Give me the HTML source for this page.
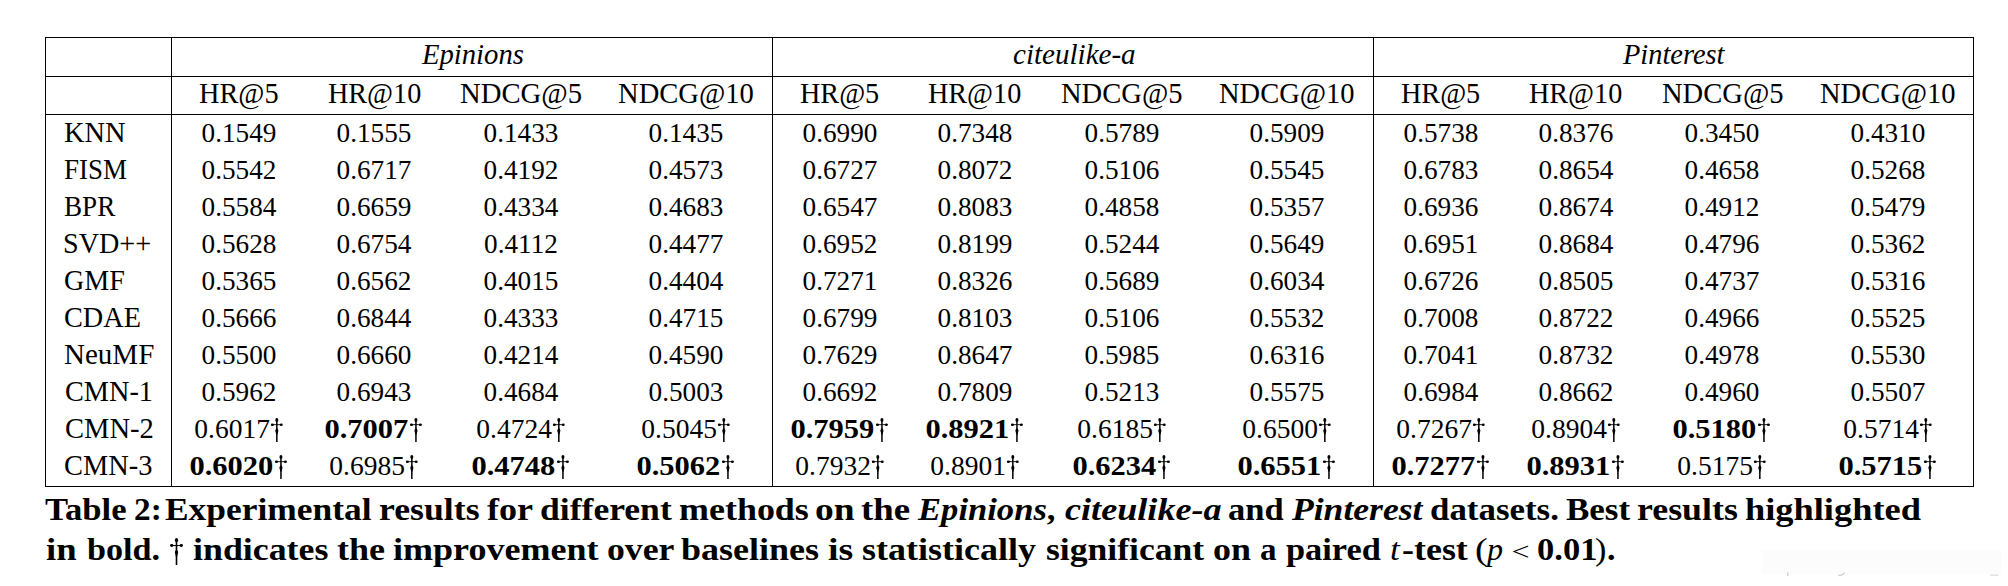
<!DOCTYPE html>
<html><head><meta charset="utf-8"><style>
html,body{margin:0;padding:0;background:#fff;}
body{width:2008px;height:586px;position:relative;overflow:hidden;}
.t{position:absolute;white-space:nowrap;font-family:"Liberation Serif",serif;color:#000;line-height:normal;}
.m{font-weight:normal;}
.dg{display:inline-block;position:relative;width:0.5em;height:0;}
.dg svg{position:absolute;fill:#000;}
svg.ln{position:absolute;left:0;top:0;}
</style></head><body>
<svg class="ln" width="2008" height="586" viewBox="0 0 2008 586"><rect x="45" y="37" width="1929" height="1" fill="#000"/><rect x="45" y="76" width="1929" height="1" fill="#000"/><rect x="45" y="114" width="1929" height="1" fill="#000"/><rect x="45" y="486" width="1929" height="1" fill="#000"/><rect x="45" y="37" width="1" height="450" fill="#000"/><rect x="171" y="37" width="1" height="450" fill="#000"/><rect x="772" y="37" width="1" height="450" fill="#000"/><rect x="1373" y="37" width="1" height="450" fill="#000"/><rect x="1973" y="37" width="1" height="450" fill="#000"/><rect x="1762" y="550" width="239" height="24" fill="#fcfcfc"/><rect x="1787.2" y="572.5" width="1.2" height="3.6" fill="#c8c8c8"/><path d="M1838.5 575.3 Q1842 576 1844.8 573" stroke="#b8b8b8" stroke-width="1" fill="none"/><rect x="1990" y="574.6" width="8.8" height="1.1" fill="#d8d8d8"/></svg>
<div class="t " style="left:422.25px;top:38.61px;font-size:28.5px;transform:scaleX(1.0055);transform-origin:0 0"><i>Epinions</i></div>
<div class="t " style="left:199.36px;top:77.61px;font-size:28.5px;transform:scaleX(0.9930);transform-origin:0 0">HR@5</div>
<div class="t " style="left:327.96px;top:77.61px;font-size:28.5px;transform:scaleX(0.9881);transform-origin:0 0">HR@10</div>
<div class="t " style="left:459.94px;top:77.61px;font-size:28.5px;transform:scaleX(1.0067);transform-origin:0 0">NDCG@5</div>
<div class="t " style="left:618.35px;top:77.61px;font-size:28.5px;transform:scaleX(1.0026);transform-origin:0 0">NDCG@10</div>
<div class="t " style="left:1012.78px;top:38.61px;font-size:28.5px;transform:scaleX(1.0199);transform-origin:0 0"><i>citeulike-a</i></div>
<div class="t " style="left:800.26px;top:77.61px;font-size:28.5px;transform:scaleX(0.9891);transform-origin:0 0">HR@5</div>
<div class="t " style="left:928.46px;top:77.61px;font-size:28.5px;transform:scaleX(0.9881);transform-origin:0 0">HR@10</div>
<div class="t " style="left:1060.95px;top:77.61px;font-size:28.5px;transform:scaleX(1.0017);transform-origin:0 0">NDCG@5</div>
<div class="t " style="left:1219.05px;top:77.61px;font-size:28.5px;transform:scaleX(1.0004);transform-origin:0 0">NDCG@10</div>
<div class="t " style="left:1622.80px;top:38.61px;font-size:28.5px;transform:scaleX(0.9966);transform-origin:0 0"><i>Pinterest</i></div>
<div class="t " style="left:1401.06px;top:77.61px;font-size:28.5px;transform:scaleX(0.9891);transform-origin:0 0">HR@5</div>
<div class="t " style="left:1529.26px;top:77.61px;font-size:28.5px;transform:scaleX(0.9881);transform-origin:0 0">HR@10</div>
<div class="t " style="left:1661.75px;top:77.61px;font-size:28.5px;transform:scaleX(1.0017);transform-origin:0 0">NDCG@5</div>
<div class="t " style="left:1820.05px;top:77.61px;font-size:28.5px;transform:scaleX(1.0004);transform-origin:0 0">NDCG@10</div>
<div class="t " style="left:64.05px;top:117.01px;font-size:28.5px;transform:scaleX(0.9959);transform-origin:0 0">KNN</div>
<div class="t " style="left:64.49px;top:154.01px;font-size:28.5px;transform:scaleX(0.9462);transform-origin:0 0">FISM</div>
<div class="t " style="left:64.19px;top:191.01px;font-size:28.5px;transform:scaleX(0.9509);transform-origin:0 0">BPR</div>
<div class="t " style="left:63.22px;top:228.01px;font-size:28.5px;transform:scaleX(0.9878);transform-origin:0 0">SVD++</div>
<div class="t " style="left:64.17px;top:265.01px;font-size:28.5px;transform:scaleX(0.9832);transform-origin:0 0">GMF</div>
<div class="t " style="left:64.16px;top:302.01px;font-size:28.5px;transform:scaleX(0.9920);transform-origin:0 0">CDAE</div>
<div class="t " style="left:64.14px;top:339.01px;font-size:28.5px;transform:scaleX(1.0184);transform-origin:0 0">NeuMF</div>
<div class="t " style="left:64.56px;top:376.01px;font-size:28.5px;transform:scaleX(0.9924);transform-origin:0 0">CMN-1</div>
<div class="t " style="left:64.55px;top:413.01px;font-size:28.5px;transform:scaleX(1.0017);transform-origin:0 0">CMN-2</div>
<div class="t " style="left:64.25px;top:450.01px;font-size:28.5px;transform:scaleX(0.9971);transform-origin:0 0">CMN-3</div>
<div class="t " style="left:239.30px;top:118.01px;font-size:26.7px;transform:translateX(-50%) scaleX(1.0194);transform-origin:50% 0">0.1549</div>
<div class="t " style="left:374.40px;top:118.01px;font-size:26.7px;transform:translateX(-50%) scaleX(1.0194);transform-origin:50% 0">0.1555</div>
<div class="t " style="left:521.00px;top:118.01px;font-size:26.7px;transform:translateX(-50%) scaleX(1.0194);transform-origin:50% 0">0.1433</div>
<div class="t " style="left:686.30px;top:118.01px;font-size:26.7px;transform:translateX(-50%) scaleX(1.0194);transform-origin:50% 0">0.1435</div>
<div class="t " style="left:239.30px;top:155.01px;font-size:26.7px;transform:translateX(-50%) scaleX(1.0194);transform-origin:50% 0">0.5542</div>
<div class="t " style="left:374.40px;top:155.01px;font-size:26.7px;transform:translateX(-50%) scaleX(1.0194);transform-origin:50% 0">0.6717</div>
<div class="t " style="left:521.00px;top:155.01px;font-size:26.7px;transform:translateX(-50%) scaleX(1.0194);transform-origin:50% 0">0.4192</div>
<div class="t " style="left:686.30px;top:155.01px;font-size:26.7px;transform:translateX(-50%) scaleX(1.0194);transform-origin:50% 0">0.4573</div>
<div class="t " style="left:239.30px;top:192.01px;font-size:26.7px;transform:translateX(-50%) scaleX(1.0194);transform-origin:50% 0">0.5584</div>
<div class="t " style="left:374.40px;top:192.01px;font-size:26.7px;transform:translateX(-50%) scaleX(1.0194);transform-origin:50% 0">0.6659</div>
<div class="t " style="left:521.00px;top:192.01px;font-size:26.7px;transform:translateX(-50%) scaleX(1.0194);transform-origin:50% 0">0.4334</div>
<div class="t " style="left:686.30px;top:192.01px;font-size:26.7px;transform:translateX(-50%) scaleX(1.0194);transform-origin:50% 0">0.4683</div>
<div class="t " style="left:239.30px;top:229.01px;font-size:26.7px;transform:translateX(-50%) scaleX(1.0194);transform-origin:50% 0">0.5628</div>
<div class="t " style="left:374.40px;top:229.01px;font-size:26.7px;transform:translateX(-50%) scaleX(1.0194);transform-origin:50% 0">0.6754</div>
<div class="t " style="left:521.00px;top:229.01px;font-size:26.7px;transform:translateX(-50%) scaleX(1.0194);transform-origin:50% 0">0.4112</div>
<div class="t " style="left:686.30px;top:229.01px;font-size:26.7px;transform:translateX(-50%) scaleX(1.0194);transform-origin:50% 0">0.4477</div>
<div class="t " style="left:239.30px;top:266.01px;font-size:26.7px;transform:translateX(-50%) scaleX(1.0194);transform-origin:50% 0">0.5365</div>
<div class="t " style="left:374.40px;top:266.01px;font-size:26.7px;transform:translateX(-50%) scaleX(1.0194);transform-origin:50% 0">0.6562</div>
<div class="t " style="left:521.00px;top:266.01px;font-size:26.7px;transform:translateX(-50%) scaleX(1.0194);transform-origin:50% 0">0.4015</div>
<div class="t " style="left:686.30px;top:266.01px;font-size:26.7px;transform:translateX(-50%) scaleX(1.0194);transform-origin:50% 0">0.4404</div>
<div class="t " style="left:239.30px;top:303.01px;font-size:26.7px;transform:translateX(-50%) scaleX(1.0194);transform-origin:50% 0">0.5666</div>
<div class="t " style="left:374.40px;top:303.01px;font-size:26.7px;transform:translateX(-50%) scaleX(1.0194);transform-origin:50% 0">0.6844</div>
<div class="t " style="left:521.00px;top:303.01px;font-size:26.7px;transform:translateX(-50%) scaleX(1.0194);transform-origin:50% 0">0.4333</div>
<div class="t " style="left:686.30px;top:303.01px;font-size:26.7px;transform:translateX(-50%) scaleX(1.0194);transform-origin:50% 0">0.4715</div>
<div class="t " style="left:239.30px;top:340.01px;font-size:26.7px;transform:translateX(-50%) scaleX(1.0194);transform-origin:50% 0">0.5500</div>
<div class="t " style="left:374.40px;top:340.01px;font-size:26.7px;transform:translateX(-50%) scaleX(1.0194);transform-origin:50% 0">0.6660</div>
<div class="t " style="left:521.00px;top:340.01px;font-size:26.7px;transform:translateX(-50%) scaleX(1.0194);transform-origin:50% 0">0.4214</div>
<div class="t " style="left:686.30px;top:340.01px;font-size:26.7px;transform:translateX(-50%) scaleX(1.0194);transform-origin:50% 0">0.4590</div>
<div class="t " style="left:239.30px;top:377.01px;font-size:26.7px;transform:translateX(-50%) scaleX(1.0194);transform-origin:50% 0">0.5962</div>
<div class="t " style="left:374.40px;top:377.01px;font-size:26.7px;transform:translateX(-50%) scaleX(1.0194);transform-origin:50% 0">0.6943</div>
<div class="t " style="left:521.00px;top:377.01px;font-size:26.7px;transform:translateX(-50%) scaleX(1.0194);transform-origin:50% 0">0.4684</div>
<div class="t " style="left:686.30px;top:377.01px;font-size:26.7px;transform:translateX(-50%) scaleX(1.0194);transform-origin:50% 0">0.5003</div>
<div class="t " style="left:239.30px;top:414.01px;font-size:26.7px;transform:translateX(-50%) scaleX(1.0301);transform-origin:50% 0">0.6017<span class="dg"><svg viewBox="0 0 12.2 24.2" width="12.20" height="24.20" style="left:calc(50% - 6.30px);bottom:-4.10px;transform:scaleX(0.9708)"><ellipse cx="6.1" cy="1.9" rx="1.5" ry="1.9"/><ellipse cx="1.6" cy="6.7" rx="1.6" ry="1.3"/><ellipse cx="10.6" cy="6.7" rx="1.6" ry="1.3"/><rect x="1.6" y="6.25" width="9.0" height="0.9"/><rect x="5.35" y="2" width="1.5" height="22.2"/><path d="M6.1 9.7 Q7.9 12.1 7.7 12.7 Q6.9 15 6.85 16.5 L5.35 16.5 Q5.3 15 4.5 12.7 Q4.3 12.1 6.1 9.7 Z"/></svg></span></div>
<div class="t " style="left:374.40px;top:414.01px;font-size:26.7px;transform:translateX(-50%) scaleX(1.1421);transform-origin:50% 0"><b>0.7007</b><span class="dg"><svg viewBox="0 0 12.2 24.2" width="12.20" height="24.20" style="left:calc(50% - 6.30px);bottom:-4.10px;transform:scaleX(0.8756)"><ellipse cx="6.1" cy="1.9" rx="1.5" ry="1.9"/><ellipse cx="1.6" cy="6.7" rx="1.6" ry="1.3"/><ellipse cx="10.6" cy="6.7" rx="1.6" ry="1.3"/><rect x="1.6" y="6.25" width="9.0" height="0.9"/><rect x="5.35" y="2" width="1.5" height="22.2"/><path d="M6.1 9.7 Q7.9 12.1 7.7 12.7 Q6.9 15 6.85 16.5 L5.35 16.5 Q5.3 15 4.5 12.7 Q4.3 12.1 6.1 9.7 Z"/></svg></span></div>
<div class="t " style="left:521.00px;top:414.01px;font-size:26.7px;transform:translateX(-50%) scaleX(1.0301);transform-origin:50% 0">0.4724<span class="dg"><svg viewBox="0 0 12.2 24.2" width="12.20" height="24.20" style="left:calc(50% - 6.30px);bottom:-4.10px;transform:scaleX(0.9708)"><ellipse cx="6.1" cy="1.9" rx="1.5" ry="1.9"/><ellipse cx="1.6" cy="6.7" rx="1.6" ry="1.3"/><ellipse cx="10.6" cy="6.7" rx="1.6" ry="1.3"/><rect x="1.6" y="6.25" width="9.0" height="0.9"/><rect x="5.35" y="2" width="1.5" height="22.2"/><path d="M6.1 9.7 Q7.9 12.1 7.7 12.7 Q6.9 15 6.85 16.5 L5.35 16.5 Q5.3 15 4.5 12.7 Q4.3 12.1 6.1 9.7 Z"/></svg></span></div>
<div class="t " style="left:686.30px;top:414.01px;font-size:26.7px;transform:translateX(-50%) scaleX(1.0301);transform-origin:50% 0">0.5045<span class="dg"><svg viewBox="0 0 12.2 24.2" width="12.20" height="24.20" style="left:calc(50% - 6.30px);bottom:-4.10px;transform:scaleX(0.9708)"><ellipse cx="6.1" cy="1.9" rx="1.5" ry="1.9"/><ellipse cx="1.6" cy="6.7" rx="1.6" ry="1.3"/><ellipse cx="10.6" cy="6.7" rx="1.6" ry="1.3"/><rect x="1.6" y="6.25" width="9.0" height="0.9"/><rect x="5.35" y="2" width="1.5" height="22.2"/><path d="M6.1 9.7 Q7.9 12.1 7.7 12.7 Q6.9 15 6.85 16.5 L5.35 16.5 Q5.3 15 4.5 12.7 Q4.3 12.1 6.1 9.7 Z"/></svg></span></div>
<div class="t " style="left:239.30px;top:451.01px;font-size:26.7px;transform:translateX(-50%) scaleX(1.1421);transform-origin:50% 0"><b>0.6020</b><span class="dg"><svg viewBox="0 0 12.2 24.2" width="12.20" height="24.20" style="left:calc(50% - 6.30px);bottom:-4.10px;transform:scaleX(0.8756)"><ellipse cx="6.1" cy="1.9" rx="1.5" ry="1.9"/><ellipse cx="1.6" cy="6.7" rx="1.6" ry="1.3"/><ellipse cx="10.6" cy="6.7" rx="1.6" ry="1.3"/><rect x="1.6" y="6.25" width="9.0" height="0.9"/><rect x="5.35" y="2" width="1.5" height="22.2"/><path d="M6.1 9.7 Q7.9 12.1 7.7 12.7 Q6.9 15 6.85 16.5 L5.35 16.5 Q5.3 15 4.5 12.7 Q4.3 12.1 6.1 9.7 Z"/></svg></span></div>
<div class="t " style="left:374.40px;top:451.01px;font-size:26.7px;transform:translateX(-50%) scaleX(1.0301);transform-origin:50% 0">0.6985<span class="dg"><svg viewBox="0 0 12.2 24.2" width="12.20" height="24.20" style="left:calc(50% - 6.30px);bottom:-4.10px;transform:scaleX(0.9708)"><ellipse cx="6.1" cy="1.9" rx="1.5" ry="1.9"/><ellipse cx="1.6" cy="6.7" rx="1.6" ry="1.3"/><ellipse cx="10.6" cy="6.7" rx="1.6" ry="1.3"/><rect x="1.6" y="6.25" width="9.0" height="0.9"/><rect x="5.35" y="2" width="1.5" height="22.2"/><path d="M6.1 9.7 Q7.9 12.1 7.7 12.7 Q6.9 15 6.85 16.5 L5.35 16.5 Q5.3 15 4.5 12.7 Q4.3 12.1 6.1 9.7 Z"/></svg></span></div>
<div class="t " style="left:521.00px;top:451.01px;font-size:26.7px;transform:translateX(-50%) scaleX(1.1421);transform-origin:50% 0"><b>0.4748</b><span class="dg"><svg viewBox="0 0 12.2 24.2" width="12.20" height="24.20" style="left:calc(50% - 6.30px);bottom:-4.10px;transform:scaleX(0.8756)"><ellipse cx="6.1" cy="1.9" rx="1.5" ry="1.9"/><ellipse cx="1.6" cy="6.7" rx="1.6" ry="1.3"/><ellipse cx="10.6" cy="6.7" rx="1.6" ry="1.3"/><rect x="1.6" y="6.25" width="9.0" height="0.9"/><rect x="5.35" y="2" width="1.5" height="22.2"/><path d="M6.1 9.7 Q7.9 12.1 7.7 12.7 Q6.9 15 6.85 16.5 L5.35 16.5 Q5.3 15 4.5 12.7 Q4.3 12.1 6.1 9.7 Z"/></svg></span></div>
<div class="t " style="left:686.30px;top:451.01px;font-size:26.7px;transform:translateX(-50%) scaleX(1.1421);transform-origin:50% 0"><b>0.5062</b><span class="dg"><svg viewBox="0 0 12.2 24.2" width="12.20" height="24.20" style="left:calc(50% - 6.30px);bottom:-4.10px;transform:scaleX(0.8756)"><ellipse cx="6.1" cy="1.9" rx="1.5" ry="1.9"/><ellipse cx="1.6" cy="6.7" rx="1.6" ry="1.3"/><ellipse cx="10.6" cy="6.7" rx="1.6" ry="1.3"/><rect x="1.6" y="6.25" width="9.0" height="0.9"/><rect x="5.35" y="2" width="1.5" height="22.2"/><path d="M6.1 9.7 Q7.9 12.1 7.7 12.7 Q6.9 15 6.85 16.5 L5.35 16.5 Q5.3 15 4.5 12.7 Q4.3 12.1 6.1 9.7 Z"/></svg></span></div>
<div class="t " style="left:839.80px;top:118.01px;font-size:26.7px;transform:translateX(-50%) scaleX(1.0194);transform-origin:50% 0">0.6990</div>
<div class="t " style="left:974.90px;top:118.01px;font-size:26.7px;transform:translateX(-50%) scaleX(1.0194);transform-origin:50% 0">0.7348</div>
<div class="t " style="left:1121.50px;top:118.01px;font-size:26.7px;transform:translateX(-50%) scaleX(1.0194);transform-origin:50% 0">0.5789</div>
<div class="t " style="left:1286.80px;top:118.01px;font-size:26.7px;transform:translateX(-50%) scaleX(1.0194);transform-origin:50% 0">0.5909</div>
<div class="t " style="left:839.80px;top:155.01px;font-size:26.7px;transform:translateX(-50%) scaleX(1.0194);transform-origin:50% 0">0.6727</div>
<div class="t " style="left:974.90px;top:155.01px;font-size:26.7px;transform:translateX(-50%) scaleX(1.0194);transform-origin:50% 0">0.8072</div>
<div class="t " style="left:1121.50px;top:155.01px;font-size:26.7px;transform:translateX(-50%) scaleX(1.0194);transform-origin:50% 0">0.5106</div>
<div class="t " style="left:1286.80px;top:155.01px;font-size:26.7px;transform:translateX(-50%) scaleX(1.0194);transform-origin:50% 0">0.5545</div>
<div class="t " style="left:839.80px;top:192.01px;font-size:26.7px;transform:translateX(-50%) scaleX(1.0194);transform-origin:50% 0">0.6547</div>
<div class="t " style="left:974.90px;top:192.01px;font-size:26.7px;transform:translateX(-50%) scaleX(1.0194);transform-origin:50% 0">0.8083</div>
<div class="t " style="left:1121.50px;top:192.01px;font-size:26.7px;transform:translateX(-50%) scaleX(1.0194);transform-origin:50% 0">0.4858</div>
<div class="t " style="left:1286.80px;top:192.01px;font-size:26.7px;transform:translateX(-50%) scaleX(1.0194);transform-origin:50% 0">0.5357</div>
<div class="t " style="left:839.80px;top:229.01px;font-size:26.7px;transform:translateX(-50%) scaleX(1.0194);transform-origin:50% 0">0.6952</div>
<div class="t " style="left:974.90px;top:229.01px;font-size:26.7px;transform:translateX(-50%) scaleX(1.0194);transform-origin:50% 0">0.8199</div>
<div class="t " style="left:1121.50px;top:229.01px;font-size:26.7px;transform:translateX(-50%) scaleX(1.0194);transform-origin:50% 0">0.5244</div>
<div class="t " style="left:1286.80px;top:229.01px;font-size:26.7px;transform:translateX(-50%) scaleX(1.0194);transform-origin:50% 0">0.5649</div>
<div class="t " style="left:839.80px;top:266.01px;font-size:26.7px;transform:translateX(-50%) scaleX(1.0194);transform-origin:50% 0">0.7271</div>
<div class="t " style="left:974.90px;top:266.01px;font-size:26.7px;transform:translateX(-50%) scaleX(1.0194);transform-origin:50% 0">0.8326</div>
<div class="t " style="left:1121.50px;top:266.01px;font-size:26.7px;transform:translateX(-50%) scaleX(1.0194);transform-origin:50% 0">0.5689</div>
<div class="t " style="left:1286.80px;top:266.01px;font-size:26.7px;transform:translateX(-50%) scaleX(1.0194);transform-origin:50% 0">0.6034</div>
<div class="t " style="left:839.80px;top:303.01px;font-size:26.7px;transform:translateX(-50%) scaleX(1.0194);transform-origin:50% 0">0.6799</div>
<div class="t " style="left:974.90px;top:303.01px;font-size:26.7px;transform:translateX(-50%) scaleX(1.0194);transform-origin:50% 0">0.8103</div>
<div class="t " style="left:1121.50px;top:303.01px;font-size:26.7px;transform:translateX(-50%) scaleX(1.0194);transform-origin:50% 0">0.5106</div>
<div class="t " style="left:1286.80px;top:303.01px;font-size:26.7px;transform:translateX(-50%) scaleX(1.0194);transform-origin:50% 0">0.5532</div>
<div class="t " style="left:839.80px;top:340.01px;font-size:26.7px;transform:translateX(-50%) scaleX(1.0194);transform-origin:50% 0">0.7629</div>
<div class="t " style="left:974.90px;top:340.01px;font-size:26.7px;transform:translateX(-50%) scaleX(1.0194);transform-origin:50% 0">0.8647</div>
<div class="t " style="left:1121.50px;top:340.01px;font-size:26.7px;transform:translateX(-50%) scaleX(1.0194);transform-origin:50% 0">0.5985</div>
<div class="t " style="left:1286.80px;top:340.01px;font-size:26.7px;transform:translateX(-50%) scaleX(1.0194);transform-origin:50% 0">0.6316</div>
<div class="t " style="left:839.80px;top:377.01px;font-size:26.7px;transform:translateX(-50%) scaleX(1.0194);transform-origin:50% 0">0.6692</div>
<div class="t " style="left:974.90px;top:377.01px;font-size:26.7px;transform:translateX(-50%) scaleX(1.0194);transform-origin:50% 0">0.7809</div>
<div class="t " style="left:1121.50px;top:377.01px;font-size:26.7px;transform:translateX(-50%) scaleX(1.0194);transform-origin:50% 0">0.5213</div>
<div class="t " style="left:1286.80px;top:377.01px;font-size:26.7px;transform:translateX(-50%) scaleX(1.0194);transform-origin:50% 0">0.5575</div>
<div class="t " style="left:839.80px;top:414.01px;font-size:26.7px;transform:translateX(-50%) scaleX(1.1421);transform-origin:50% 0"><b>0.7959</b><span class="dg"><svg viewBox="0 0 12.2 24.2" width="12.20" height="24.20" style="left:calc(50% - 6.30px);bottom:-4.10px;transform:scaleX(0.8756)"><ellipse cx="6.1" cy="1.9" rx="1.5" ry="1.9"/><ellipse cx="1.6" cy="6.7" rx="1.6" ry="1.3"/><ellipse cx="10.6" cy="6.7" rx="1.6" ry="1.3"/><rect x="1.6" y="6.25" width="9.0" height="0.9"/><rect x="5.35" y="2" width="1.5" height="22.2"/><path d="M6.1 9.7 Q7.9 12.1 7.7 12.7 Q6.9 15 6.85 16.5 L5.35 16.5 Q5.3 15 4.5 12.7 Q4.3 12.1 6.1 9.7 Z"/></svg></span></div>
<div class="t " style="left:974.90px;top:414.01px;font-size:26.7px;transform:translateX(-50%) scaleX(1.1421);transform-origin:50% 0"><b>0.8921</b><span class="dg"><svg viewBox="0 0 12.2 24.2" width="12.20" height="24.20" style="left:calc(50% - 6.30px);bottom:-4.10px;transform:scaleX(0.8756)"><ellipse cx="6.1" cy="1.9" rx="1.5" ry="1.9"/><ellipse cx="1.6" cy="6.7" rx="1.6" ry="1.3"/><ellipse cx="10.6" cy="6.7" rx="1.6" ry="1.3"/><rect x="1.6" y="6.25" width="9.0" height="0.9"/><rect x="5.35" y="2" width="1.5" height="22.2"/><path d="M6.1 9.7 Q7.9 12.1 7.7 12.7 Q6.9 15 6.85 16.5 L5.35 16.5 Q5.3 15 4.5 12.7 Q4.3 12.1 6.1 9.7 Z"/></svg></span></div>
<div class="t " style="left:1121.50px;top:414.01px;font-size:26.7px;transform:translateX(-50%) scaleX(1.0301);transform-origin:50% 0">0.6185<span class="dg"><svg viewBox="0 0 12.2 24.2" width="12.20" height="24.20" style="left:calc(50% - 6.30px);bottom:-4.10px;transform:scaleX(0.9708)"><ellipse cx="6.1" cy="1.9" rx="1.5" ry="1.9"/><ellipse cx="1.6" cy="6.7" rx="1.6" ry="1.3"/><ellipse cx="10.6" cy="6.7" rx="1.6" ry="1.3"/><rect x="1.6" y="6.25" width="9.0" height="0.9"/><rect x="5.35" y="2" width="1.5" height="22.2"/><path d="M6.1 9.7 Q7.9 12.1 7.7 12.7 Q6.9 15 6.85 16.5 L5.35 16.5 Q5.3 15 4.5 12.7 Q4.3 12.1 6.1 9.7 Z"/></svg></span></div>
<div class="t " style="left:1286.80px;top:414.01px;font-size:26.7px;transform:translateX(-50%) scaleX(1.0301);transform-origin:50% 0">0.6500<span class="dg"><svg viewBox="0 0 12.2 24.2" width="12.20" height="24.20" style="left:calc(50% - 6.30px);bottom:-4.10px;transform:scaleX(0.9708)"><ellipse cx="6.1" cy="1.9" rx="1.5" ry="1.9"/><ellipse cx="1.6" cy="6.7" rx="1.6" ry="1.3"/><ellipse cx="10.6" cy="6.7" rx="1.6" ry="1.3"/><rect x="1.6" y="6.25" width="9.0" height="0.9"/><rect x="5.35" y="2" width="1.5" height="22.2"/><path d="M6.1 9.7 Q7.9 12.1 7.7 12.7 Q6.9 15 6.85 16.5 L5.35 16.5 Q5.3 15 4.5 12.7 Q4.3 12.1 6.1 9.7 Z"/></svg></span></div>
<div class="t " style="left:839.80px;top:451.01px;font-size:26.7px;transform:translateX(-50%) scaleX(1.0301);transform-origin:50% 0">0.7932<span class="dg"><svg viewBox="0 0 12.2 24.2" width="12.20" height="24.20" style="left:calc(50% - 6.30px);bottom:-4.10px;transform:scaleX(0.9708)"><ellipse cx="6.1" cy="1.9" rx="1.5" ry="1.9"/><ellipse cx="1.6" cy="6.7" rx="1.6" ry="1.3"/><ellipse cx="10.6" cy="6.7" rx="1.6" ry="1.3"/><rect x="1.6" y="6.25" width="9.0" height="0.9"/><rect x="5.35" y="2" width="1.5" height="22.2"/><path d="M6.1 9.7 Q7.9 12.1 7.7 12.7 Q6.9 15 6.85 16.5 L5.35 16.5 Q5.3 15 4.5 12.7 Q4.3 12.1 6.1 9.7 Z"/></svg></span></div>
<div class="t " style="left:974.90px;top:451.01px;font-size:26.7px;transform:translateX(-50%) scaleX(1.0301);transform-origin:50% 0">0.8901<span class="dg"><svg viewBox="0 0 12.2 24.2" width="12.20" height="24.20" style="left:calc(50% - 6.30px);bottom:-4.10px;transform:scaleX(0.9708)"><ellipse cx="6.1" cy="1.9" rx="1.5" ry="1.9"/><ellipse cx="1.6" cy="6.7" rx="1.6" ry="1.3"/><ellipse cx="10.6" cy="6.7" rx="1.6" ry="1.3"/><rect x="1.6" y="6.25" width="9.0" height="0.9"/><rect x="5.35" y="2" width="1.5" height="22.2"/><path d="M6.1 9.7 Q7.9 12.1 7.7 12.7 Q6.9 15 6.85 16.5 L5.35 16.5 Q5.3 15 4.5 12.7 Q4.3 12.1 6.1 9.7 Z"/></svg></span></div>
<div class="t " style="left:1121.50px;top:451.01px;font-size:26.7px;transform:translateX(-50%) scaleX(1.1421);transform-origin:50% 0"><b>0.6234</b><span class="dg"><svg viewBox="0 0 12.2 24.2" width="12.20" height="24.20" style="left:calc(50% - 6.30px);bottom:-4.10px;transform:scaleX(0.8756)"><ellipse cx="6.1" cy="1.9" rx="1.5" ry="1.9"/><ellipse cx="1.6" cy="6.7" rx="1.6" ry="1.3"/><ellipse cx="10.6" cy="6.7" rx="1.6" ry="1.3"/><rect x="1.6" y="6.25" width="9.0" height="0.9"/><rect x="5.35" y="2" width="1.5" height="22.2"/><path d="M6.1 9.7 Q7.9 12.1 7.7 12.7 Q6.9 15 6.85 16.5 L5.35 16.5 Q5.3 15 4.5 12.7 Q4.3 12.1 6.1 9.7 Z"/></svg></span></div>
<div class="t " style="left:1286.80px;top:451.01px;font-size:26.7px;transform:translateX(-50%) scaleX(1.1421);transform-origin:50% 0"><b>0.6551</b><span class="dg"><svg viewBox="0 0 12.2 24.2" width="12.20" height="24.20" style="left:calc(50% - 6.30px);bottom:-4.10px;transform:scaleX(0.8756)"><ellipse cx="6.1" cy="1.9" rx="1.5" ry="1.9"/><ellipse cx="1.6" cy="6.7" rx="1.6" ry="1.3"/><ellipse cx="10.6" cy="6.7" rx="1.6" ry="1.3"/><rect x="1.6" y="6.25" width="9.0" height="0.9"/><rect x="5.35" y="2" width="1.5" height="22.2"/><path d="M6.1 9.7 Q7.9 12.1 7.7 12.7 Q6.9 15 6.85 16.5 L5.35 16.5 Q5.3 15 4.5 12.7 Q4.3 12.1 6.1 9.7 Z"/></svg></span></div>
<div class="t " style="left:1440.50px;top:118.01px;font-size:26.7px;transform:translateX(-50%) scaleX(1.0194);transform-origin:50% 0">0.5738</div>
<div class="t " style="left:1575.70px;top:118.01px;font-size:26.7px;transform:translateX(-50%) scaleX(1.0194);transform-origin:50% 0">0.8376</div>
<div class="t " style="left:1722.30px;top:118.01px;font-size:26.7px;transform:translateX(-50%) scaleX(1.0194);transform-origin:50% 0">0.3450</div>
<div class="t " style="left:1887.80px;top:118.01px;font-size:26.7px;transform:translateX(-50%) scaleX(1.0194);transform-origin:50% 0">0.4310</div>
<div class="t " style="left:1440.50px;top:155.01px;font-size:26.7px;transform:translateX(-50%) scaleX(1.0194);transform-origin:50% 0">0.6783</div>
<div class="t " style="left:1575.70px;top:155.01px;font-size:26.7px;transform:translateX(-50%) scaleX(1.0194);transform-origin:50% 0">0.8654</div>
<div class="t " style="left:1722.30px;top:155.01px;font-size:26.7px;transform:translateX(-50%) scaleX(1.0194);transform-origin:50% 0">0.4658</div>
<div class="t " style="left:1887.80px;top:155.01px;font-size:26.7px;transform:translateX(-50%) scaleX(1.0194);transform-origin:50% 0">0.5268</div>
<div class="t " style="left:1440.50px;top:192.01px;font-size:26.7px;transform:translateX(-50%) scaleX(1.0194);transform-origin:50% 0">0.6936</div>
<div class="t " style="left:1575.70px;top:192.01px;font-size:26.7px;transform:translateX(-50%) scaleX(1.0194);transform-origin:50% 0">0.8674</div>
<div class="t " style="left:1722.30px;top:192.01px;font-size:26.7px;transform:translateX(-50%) scaleX(1.0194);transform-origin:50% 0">0.4912</div>
<div class="t " style="left:1887.80px;top:192.01px;font-size:26.7px;transform:translateX(-50%) scaleX(1.0194);transform-origin:50% 0">0.5479</div>
<div class="t " style="left:1440.50px;top:229.01px;font-size:26.7px;transform:translateX(-50%) scaleX(1.0194);transform-origin:50% 0">0.6951</div>
<div class="t " style="left:1575.70px;top:229.01px;font-size:26.7px;transform:translateX(-50%) scaleX(1.0194);transform-origin:50% 0">0.8684</div>
<div class="t " style="left:1722.30px;top:229.01px;font-size:26.7px;transform:translateX(-50%) scaleX(1.0194);transform-origin:50% 0">0.4796</div>
<div class="t " style="left:1887.80px;top:229.01px;font-size:26.7px;transform:translateX(-50%) scaleX(1.0194);transform-origin:50% 0">0.5362</div>
<div class="t " style="left:1440.50px;top:266.01px;font-size:26.7px;transform:translateX(-50%) scaleX(1.0194);transform-origin:50% 0">0.6726</div>
<div class="t " style="left:1575.70px;top:266.01px;font-size:26.7px;transform:translateX(-50%) scaleX(1.0194);transform-origin:50% 0">0.8505</div>
<div class="t " style="left:1722.30px;top:266.01px;font-size:26.7px;transform:translateX(-50%) scaleX(1.0194);transform-origin:50% 0">0.4737</div>
<div class="t " style="left:1887.80px;top:266.01px;font-size:26.7px;transform:translateX(-50%) scaleX(1.0194);transform-origin:50% 0">0.5316</div>
<div class="t " style="left:1440.50px;top:303.01px;font-size:26.7px;transform:translateX(-50%) scaleX(1.0194);transform-origin:50% 0">0.7008</div>
<div class="t " style="left:1575.70px;top:303.01px;font-size:26.7px;transform:translateX(-50%) scaleX(1.0194);transform-origin:50% 0">0.8722</div>
<div class="t " style="left:1722.30px;top:303.01px;font-size:26.7px;transform:translateX(-50%) scaleX(1.0194);transform-origin:50% 0">0.4966</div>
<div class="t " style="left:1887.80px;top:303.01px;font-size:26.7px;transform:translateX(-50%) scaleX(1.0194);transform-origin:50% 0">0.5525</div>
<div class="t " style="left:1440.50px;top:340.01px;font-size:26.7px;transform:translateX(-50%) scaleX(1.0194);transform-origin:50% 0">0.7041</div>
<div class="t " style="left:1575.70px;top:340.01px;font-size:26.7px;transform:translateX(-50%) scaleX(1.0194);transform-origin:50% 0">0.8732</div>
<div class="t " style="left:1722.30px;top:340.01px;font-size:26.7px;transform:translateX(-50%) scaleX(1.0194);transform-origin:50% 0">0.4978</div>
<div class="t " style="left:1887.80px;top:340.01px;font-size:26.7px;transform:translateX(-50%) scaleX(1.0194);transform-origin:50% 0">0.5530</div>
<div class="t " style="left:1440.50px;top:377.01px;font-size:26.7px;transform:translateX(-50%) scaleX(1.0194);transform-origin:50% 0">0.6984</div>
<div class="t " style="left:1575.70px;top:377.01px;font-size:26.7px;transform:translateX(-50%) scaleX(1.0194);transform-origin:50% 0">0.8662</div>
<div class="t " style="left:1722.30px;top:377.01px;font-size:26.7px;transform:translateX(-50%) scaleX(1.0194);transform-origin:50% 0">0.4960</div>
<div class="t " style="left:1887.80px;top:377.01px;font-size:26.7px;transform:translateX(-50%) scaleX(1.0194);transform-origin:50% 0">0.5507</div>
<div class="t " style="left:1440.50px;top:414.01px;font-size:26.7px;transform:translateX(-50%) scaleX(1.0301);transform-origin:50% 0">0.7267<span class="dg"><svg viewBox="0 0 12.2 24.2" width="12.20" height="24.20" style="left:calc(50% - 6.30px);bottom:-4.10px;transform:scaleX(0.9708)"><ellipse cx="6.1" cy="1.9" rx="1.5" ry="1.9"/><ellipse cx="1.6" cy="6.7" rx="1.6" ry="1.3"/><ellipse cx="10.6" cy="6.7" rx="1.6" ry="1.3"/><rect x="1.6" y="6.25" width="9.0" height="0.9"/><rect x="5.35" y="2" width="1.5" height="22.2"/><path d="M6.1 9.7 Q7.9 12.1 7.7 12.7 Q6.9 15 6.85 16.5 L5.35 16.5 Q5.3 15 4.5 12.7 Q4.3 12.1 6.1 9.7 Z"/></svg></span></div>
<div class="t " style="left:1575.70px;top:414.01px;font-size:26.7px;transform:translateX(-50%) scaleX(1.0301);transform-origin:50% 0">0.8904<span class="dg"><svg viewBox="0 0 12.2 24.2" width="12.20" height="24.20" style="left:calc(50% - 6.30px);bottom:-4.10px;transform:scaleX(0.9708)"><ellipse cx="6.1" cy="1.9" rx="1.5" ry="1.9"/><ellipse cx="1.6" cy="6.7" rx="1.6" ry="1.3"/><ellipse cx="10.6" cy="6.7" rx="1.6" ry="1.3"/><rect x="1.6" y="6.25" width="9.0" height="0.9"/><rect x="5.35" y="2" width="1.5" height="22.2"/><path d="M6.1 9.7 Q7.9 12.1 7.7 12.7 Q6.9 15 6.85 16.5 L5.35 16.5 Q5.3 15 4.5 12.7 Q4.3 12.1 6.1 9.7 Z"/></svg></span></div>
<div class="t " style="left:1722.30px;top:414.01px;font-size:26.7px;transform:translateX(-50%) scaleX(1.1421);transform-origin:50% 0"><b>0.5180</b><span class="dg"><svg viewBox="0 0 12.2 24.2" width="12.20" height="24.20" style="left:calc(50% - 6.30px);bottom:-4.10px;transform:scaleX(0.8756)"><ellipse cx="6.1" cy="1.9" rx="1.5" ry="1.9"/><ellipse cx="1.6" cy="6.7" rx="1.6" ry="1.3"/><ellipse cx="10.6" cy="6.7" rx="1.6" ry="1.3"/><rect x="1.6" y="6.25" width="9.0" height="0.9"/><rect x="5.35" y="2" width="1.5" height="22.2"/><path d="M6.1 9.7 Q7.9 12.1 7.7 12.7 Q6.9 15 6.85 16.5 L5.35 16.5 Q5.3 15 4.5 12.7 Q4.3 12.1 6.1 9.7 Z"/></svg></span></div>
<div class="t " style="left:1887.80px;top:414.01px;font-size:26.7px;transform:translateX(-50%) scaleX(1.0301);transform-origin:50% 0">0.5714<span class="dg"><svg viewBox="0 0 12.2 24.2" width="12.20" height="24.20" style="left:calc(50% - 6.30px);bottom:-4.10px;transform:scaleX(0.9708)"><ellipse cx="6.1" cy="1.9" rx="1.5" ry="1.9"/><ellipse cx="1.6" cy="6.7" rx="1.6" ry="1.3"/><ellipse cx="10.6" cy="6.7" rx="1.6" ry="1.3"/><rect x="1.6" y="6.25" width="9.0" height="0.9"/><rect x="5.35" y="2" width="1.5" height="22.2"/><path d="M6.1 9.7 Q7.9 12.1 7.7 12.7 Q6.9 15 6.85 16.5 L5.35 16.5 Q5.3 15 4.5 12.7 Q4.3 12.1 6.1 9.7 Z"/></svg></span></div>
<div class="t " style="left:1440.50px;top:451.01px;font-size:26.7px;transform:translateX(-50%) scaleX(1.1421);transform-origin:50% 0"><b>0.7277</b><span class="dg"><svg viewBox="0 0 12.2 24.2" width="12.20" height="24.20" style="left:calc(50% - 6.30px);bottom:-4.10px;transform:scaleX(0.8756)"><ellipse cx="6.1" cy="1.9" rx="1.5" ry="1.9"/><ellipse cx="1.6" cy="6.7" rx="1.6" ry="1.3"/><ellipse cx="10.6" cy="6.7" rx="1.6" ry="1.3"/><rect x="1.6" y="6.25" width="9.0" height="0.9"/><rect x="5.35" y="2" width="1.5" height="22.2"/><path d="M6.1 9.7 Q7.9 12.1 7.7 12.7 Q6.9 15 6.85 16.5 L5.35 16.5 Q5.3 15 4.5 12.7 Q4.3 12.1 6.1 9.7 Z"/></svg></span></div>
<div class="t " style="left:1575.70px;top:451.01px;font-size:26.7px;transform:translateX(-50%) scaleX(1.1421);transform-origin:50% 0"><b>0.8931</b><span class="dg"><svg viewBox="0 0 12.2 24.2" width="12.20" height="24.20" style="left:calc(50% - 6.30px);bottom:-4.10px;transform:scaleX(0.8756)"><ellipse cx="6.1" cy="1.9" rx="1.5" ry="1.9"/><ellipse cx="1.6" cy="6.7" rx="1.6" ry="1.3"/><ellipse cx="10.6" cy="6.7" rx="1.6" ry="1.3"/><rect x="1.6" y="6.25" width="9.0" height="0.9"/><rect x="5.35" y="2" width="1.5" height="22.2"/><path d="M6.1 9.7 Q7.9 12.1 7.7 12.7 Q6.9 15 6.85 16.5 L5.35 16.5 Q5.3 15 4.5 12.7 Q4.3 12.1 6.1 9.7 Z"/></svg></span></div>
<div class="t " style="left:1722.30px;top:451.01px;font-size:26.7px;transform:translateX(-50%) scaleX(1.0301);transform-origin:50% 0">0.5175<span class="dg"><svg viewBox="0 0 12.2 24.2" width="12.20" height="24.20" style="left:calc(50% - 6.30px);bottom:-4.10px;transform:scaleX(0.9708)"><ellipse cx="6.1" cy="1.9" rx="1.5" ry="1.9"/><ellipse cx="1.6" cy="6.7" rx="1.6" ry="1.3"/><ellipse cx="10.6" cy="6.7" rx="1.6" ry="1.3"/><rect x="1.6" y="6.25" width="9.0" height="0.9"/><rect x="5.35" y="2" width="1.5" height="22.2"/><path d="M6.1 9.7 Q7.9 12.1 7.7 12.7 Q6.9 15 6.85 16.5 L5.35 16.5 Q5.3 15 4.5 12.7 Q4.3 12.1 6.1 9.7 Z"/></svg></span></div>
<div class="t " style="left:1887.80px;top:451.01px;font-size:26.7px;transform:translateX(-50%) scaleX(1.1421);transform-origin:50% 0"><b>0.5715</b><span class="dg"><svg viewBox="0 0 12.2 24.2" width="12.20" height="24.20" style="left:calc(50% - 6.30px);bottom:-4.10px;transform:scaleX(0.8756)"><ellipse cx="6.1" cy="1.9" rx="1.5" ry="1.9"/><ellipse cx="1.6" cy="6.7" rx="1.6" ry="1.3"/><ellipse cx="10.6" cy="6.7" rx="1.6" ry="1.3"/><rect x="1.6" y="6.25" width="9.0" height="0.9"/><rect x="5.35" y="2" width="1.5" height="22.2"/><path d="M6.1 9.7 Q7.9 12.1 7.7 12.7 Q6.9 15 6.85 16.5 L5.35 16.5 Q5.3 15 4.5 12.7 Q4.3 12.1 6.1 9.7 Z"/></svg></span></div>
<div class="t " style="left:45.26px;top:491.29px;font-size:32px;transform:scaleX(1.0824);transform-origin:0 0"><b>Table</b></div>
<div class="t " style="left:133.80px;top:491.29px;font-size:32px;transform:scaleX(1.0400);transform-origin:0 0"><b>2:</b></div>
<div class="t " style="left:165.45px;top:491.29px;font-size:32px;transform:scaleX(1.1062);transform-origin:0 0"><b>Experimental</b></div>
<div class="t " style="left:379.16px;top:491.29px;font-size:32px;transform:scaleX(1.1164);transform-origin:0 0"><b>results</b></div>
<div class="t " style="left:487.32px;top:491.29px;font-size:32px;transform:scaleX(1.1275);transform-origin:0 0"><b>for</b></div>
<div class="t " style="left:539.61px;top:491.29px;font-size:32px;transform:scaleX(1.1120);transform-origin:0 0"><b>different</b></div>
<div class="t " style="left:679.16px;top:491.29px;font-size:32px;transform:scaleX(1.1237);transform-origin:0 0"><b>methods</b></div>
<div class="t " style="left:815.34px;top:491.29px;font-size:32px;transform:scaleX(1.1719);transform-origin:0 0"><b>on</b></div>
<div class="t " style="left:861.32px;top:491.29px;font-size:32px;transform:scaleX(1.1515);transform-origin:0 0"><b>the</b></div>
<div class="t " style="left:917.97px;top:491.29px;font-size:32px;transform:scaleX(1.0812);transform-origin:0 0"><b><i>Epinions</i>,</b></div>
<div class="t " style="left:1064.53px;top:491.29px;font-size:32px;transform:scaleX(1.1301);transform-origin:0 0"><b><i>citeulike-a</i></b></div>
<div class="t " style="left:1228.32px;top:491.29px;font-size:32px;transform:scaleX(1.0786);transform-origin:0 0"><b>and</b></div>
<div class="t " style="left:1292.30px;top:491.29px;font-size:32px;transform:scaleX(1.1119);transform-origin:0 0"><b><i>Pinterest</i></b></div>
<div class="t " style="left:1429.64px;top:491.29px;font-size:32px;transform:scaleX(1.0900);transform-origin:0 0"><b>datasets.</b></div>
<div class="t " style="left:1565.75px;top:491.29px;font-size:32px;transform:scaleX(1.0931);transform-origin:0 0"><b>Best</b></div>
<div class="t " style="left:1636.96px;top:491.29px;font-size:32px;transform:scaleX(1.1198);transform-origin:0 0"><b>results</b></div>
<div class="t " style="left:1744.85px;top:491.29px;font-size:32px;transform:scaleX(1.1368);transform-origin:0 0"><b>highlighted</b></div>
<div class="t " style="left:45.84px;top:531.29px;font-size:32px;transform:scaleX(1.1451);transform-origin:0 0"><b>in</b></div>
<div class="t " style="left:86.97px;top:531.29px;font-size:32px;transform:scaleX(1.0677);transform-origin:0 0"><b>bold.</b></div>
<svg viewBox="0 0 12.2 24.2" preserveAspectRatio="none" width="13.0" height="27.25" style="position:absolute;left:169.90px;top:537.5px;fill:#000"><ellipse cx="6.1" cy="1.9" rx="1.5" ry="1.9"/><ellipse cx="1.6" cy="6.7" rx="1.6" ry="1.3"/><ellipse cx="10.6" cy="6.7" rx="1.6" ry="1.3"/><rect x="1.6" y="6.25" width="9.0" height="0.9"/><rect x="5.35" y="2" width="1.5" height="22.2"/><path d="M6.1 9.7 Q7.9 12.1 7.7 12.7 Q6.9 15 6.85 16.5 L5.35 16.5 Q5.3 15 4.5 12.7 Q4.3 12.1 6.1 9.7 Z"/></svg>
<div class="t " style="left:192.66px;top:531.29px;font-size:32px;transform:scaleX(1.1195);transform-origin:0 0"><b>indicates</b></div>
<div class="t " style="left:337.04px;top:531.29px;font-size:32px;transform:scaleX(1.1273);transform-origin:0 0"><b>the</b></div>
<div class="t " style="left:393.46px;top:531.29px;font-size:32px;transform:scaleX(1.1256);transform-origin:0 0"><b>improvement</b></div>
<div class="t " style="left:606.60px;top:531.29px;font-size:32px;transform:scaleX(1.1162);transform-origin:0 0"><b>over</b></div>
<div class="t " style="left:681.14px;top:531.29px;font-size:32px;transform:scaleX(1.1259);transform-origin:0 0"><b>baselines</b></div>
<div class="t " style="left:827.62px;top:531.29px;font-size:32px;transform:scaleX(1.1797);transform-origin:0 0"><b>is</b></div>
<div class="t " style="left:862.38px;top:531.29px;font-size:32px;transform:scaleX(1.1250);transform-origin:0 0"><b>statistically</b></div>
<div class="t " style="left:1045.59px;top:531.29px;font-size:32px;transform:scaleX(1.1121);transform-origin:0 0"><b>significant</b></div>
<div class="t " style="left:1213.00px;top:531.29px;font-size:32px;transform:scaleX(1.1219);transform-origin:0 0"><b>on</b></div>
<div class="t " style="left:1260.07px;top:531.29px;font-size:32px;transform:scaleX(1.0345);transform-origin:0 0"><b>a</b></div>
<div class="t " style="left:1285.56px;top:531.29px;font-size:32px;transform:scaleX(1.0743);transform-origin:0 0"><b>paired</b></div>
<div class="t " style="left:1389.60px;top:531.29px;font-size:32px;transform:scaleX(1.0971);transform-origin:0 0"><b><i class="m">t</i></b></div>
<div class="t " style="left:1402.00px;top:531.29px;font-size:32px;transform:scaleX(1.1231);transform-origin:0 0"><b>-test</b></div>
<div class="t " style="left:1474.70px;top:531.29px;font-size:32px;transform:scaleX(1.2000);transform-origin:0 0"><b><span class="m">(</span></b></div>
<div class="t " style="left:1487.26px;top:531.29px;font-size:32px;transform:scaleX(1.0029);transform-origin:0 0"><b><i class="m">p</i></b></div>
<div class="t" style="left:1511.50px;top:532.29px;font-size:32px;transform:scale(1.0000,0.77);transform-origin:0 23.01px"><b><span class="m">&lt;</span></b></div>
<div class="t " style="left:1536.65px;top:531.29px;font-size:32px;transform:scaleX(1.0792);transform-origin:0 0"><b>0.01</b></div>
<div class="t " style="left:1595.23px;top:531.29px;font-size:32px;transform:scaleX(1.0667);transform-origin:0 0"><b><span class="m">)</span></b></div>
<div class="t " style="left:1606.61px;top:531.29px;font-size:32px;transform:scaleX(1.0600);transform-origin:0 0"><b>.</b></div>
</body></html>
